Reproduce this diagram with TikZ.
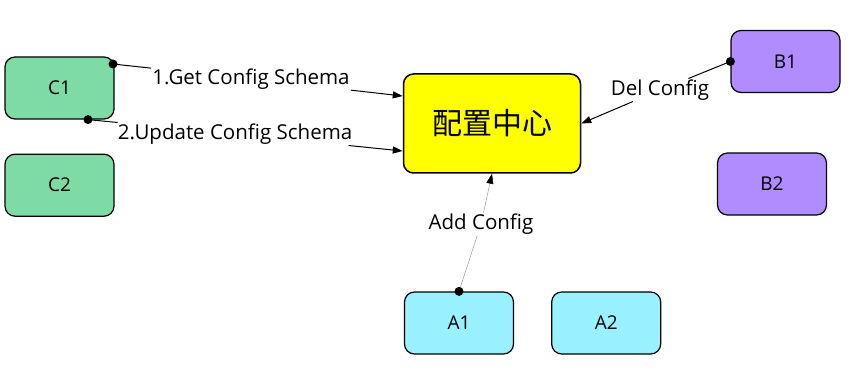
\documentclass[tikz,border=0pt]{standalone}
\usepackage{fontspec}
\setmainfont{Open Sans}
\newfontfamily\cjkfont{Noto Sans CJK SC}
\usetikzlibrary{arrows.meta, positioning}
\definecolor{bgc}{HTML}{7FDBA6}
\definecolor{bgb}{HTML}{B18CFE}
\definecolor{bga}{HTML}{99F1FF}
\definecolor{bghub}{HTML}{FFFF00}
\tikzset{
  boxc/.style   = {draw, line width=1.2pt, rounded corners=10pt, fill=bgc,
                   minimum width=109pt, minimum height=62pt,
                   font=\fontsize{19}{19}\selectfont, inner sep=2pt},
  boxb/.style   = {boxc, fill=bgb},
  boxa/.style   = {boxc, fill=bga},
  boxhub/.style = {draw, line width=1.5pt, rounded corners=10pt, fill=bghub,
                   minimum width=177pt, minimum height=99pt,
                   font=\cjkfont\fontsize{30}{30}\selectfont, inner sep=2pt},
  flow/.style   = {-{Triangle[length=10pt,width=7pt]}, line width=1pt},
  faint/.style  = {-{Triangle[length=10pt,width=7pt,color=black]}, line width=0.5pt, draw=gray!80},
  lbl/.style    = {font=\fontsize{20.5}{20.5}\selectfont, inner sep=1pt},
  pin/.style    = {circle, fill=black, inner sep=0pt, minimum size=9pt},
}
\begin{document}
\begin{tikzpicture}[x=1pt, y=-1pt]
    \useasboundingbox (0,0) rectangle (865,377);

    % Clients on the left
    \node[boxc]                    (c1)  at (59.5,88)  {C1};
    \node[boxc, below=34pt of c1]  (c2)                {C2};

    % Config centre
    \node[boxhub]                  (hub) at (492,123.5) {配置中心};

    % Right and bottom groups
    \node[boxb]                    (b1)  at (785.5,61.5) {B1};
    \node[boxb]                    (b2)  at (772,184)    {B2};
    \node[boxa]                    (a1)  at (459,323)    {A1};
    \node[boxa, right=37pt of a1]  (a2)                  {A2};

    % Labels
    \node[lbl] (getlbl) at (251,79)  {1.Get Config Schema};
    \node[lbl] (updlbl) at (235,134) {2.Update Config Schema};
    \node[lbl] (dellbl) at (660,90)  {Del Config};
    \node[lbl] (addlbl) at (481,224) {Add Config};

    % End points
    \coordinate (c1top) at (113,64);
    \coordinate (c1bot) at ([xshift=28.5pt]c1.south);
    \coordinate (in1)   at ([yshift=27.5pt]hub.west);
    \coordinate (in2)   at ([yshift=-27.5pt]hub.west);

    \draw[flow]  (c1top) -- (getlbl) -- (in1);
    \draw[flow]  (c1bot) -- (updlbl) -- (in2);
    \draw[flow]  (b1.west) -- (dellbl) -- (hub.east);
    \draw[faint] (a1.north) -- (addlbl) -- (hub.south);

    \node[pin] at (c1top)   {};
    \node[pin] at (c1bot)   {};
    \node[pin] at (b1.west) {};
    \node[pin] at (a1.north) {};
\end{tikzpicture}
\end{document}
